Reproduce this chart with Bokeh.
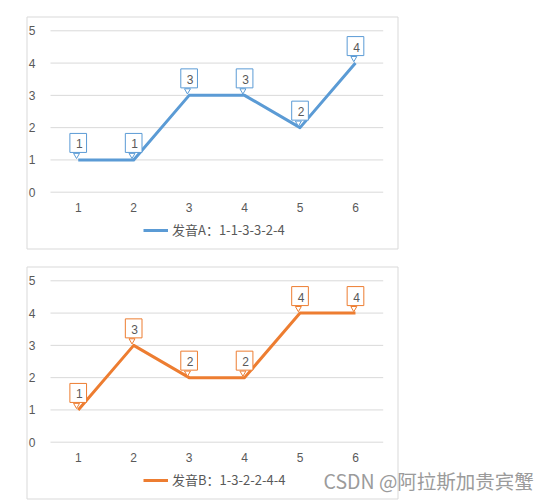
from bokeh.plotting import figure
from bokeh.models import (Range1d, FixedTicker, Legend, LegendItem, BoxAnnotation,
                          Label, ColumnDataSource)
from bokeh.layouts import column
from bokeh.embed import file_html
from bokeh.resources import INLINE
from bokeh.core.properties import value
from bokeh.transform import dodge

# ---- data ----
positions = [1, 2, 3, 4, 5, 6]
y_ticks = [0, 1, 2, 3, 4, 5]
series_a = [1, 1, 3, 3, 2, 4]
series_b = [1, 3, 2, 2, 4, 4]
name_a = "发音A：1-1-3-3-2-4"
name_b = "发音B：1-3-2-2-4-4"
color_a = "#5B9BD5"
color_b = "#ED7D31"
watermark = "CSDN @阿拉斯加贵宾蟹"

TEXT = "#595959"
GRID = "#d9d9d9"
W, H = 550, 250


def make_chart(values, name, color):
    src = ColumnDataSource(dict(x=positions, y=values, label=[str(v) for v in values]))
    p = figure(width=W, height=H, min_border=0,
               x_range=Range1d(-0.4017, 9.517), y_range=Range1d(-1.806, 5.9387),
               output_backend="svg", toolbar_location=None,
               outline_line_color=None, background_fill_color="white",
               border_fill_color="white")
    p.xgrid.visible = False
    p.ygrid.visible = False
    p.xaxis.ticker = FixedTicker(ticks=positions)
    p.yaxis.ticker = FixedTicker(ticks=y_ticks)
    p.xaxis.fixed_location = 0
    p.yaxis.fixed_location = positions[0] - 0.5
    for ax in (p.xaxis[0], p.yaxis[0]):
        ax.axis_line_color = None
        ax.major_tick_line_color = None
        ax.minor_tick_line_color = None
        ax.major_label_text_color = TEXT
        ax.major_label_text_font = "Liberation Sans"
        ax.major_label_text_font_size = "12px"
    p.xaxis.major_label_standoff = 5
    p.yaxis.major_label_standoff = 9

    # horizontal gridlines over the category span
    p.segment(x0=[positions[0] - 0.5] * len(y_ticks), x1=[positions[-1] + 0.5] * len(y_ticks),
              y0=y_ticks, y1=y_ticks, line_color=GRID, line_width=1)

    line_r = p.line(x="x", y="y", source=src, line_color=color, line_width=3,
                    line_join="round")
    # callout tails
    p.scatter(x=dodge("x", -0.03), y=dodge("y", 0.15), source=src,
              marker="inverted_triangle", size=6, fill_color="white",
              line_color=color, line_width=1)
    # callout boxes with labels
    p.text(x="x", y="y", text="label", source=src, y_offset=-17,
           text_align="center", text_baseline="middle",
           text_font=value("Liberation Sans"), text_font_size="12px",
           text_color=TEXT, background_fill_color="white",
           border_line_color=color, border_line_width=1, padding=(6, 4, 6, 4))

    legend = Legend(items=[LegendItem(label=name, renderers=[line_r])],
                    location=(143, 11), orientation="horizontal",
                    border_line_color=None, background_fill_alpha=0,
                    padding=0, margin=0, glyph_width=25, glyph_height=14,
                    label_standoff=4, label_text_font="Noto Sans CJK SC",
                    label_text_font_size="13px", label_text_color=TEXT)
    p.add_layout(legend)

    box = BoxAnnotation(left=26.5, right=397.5, top=233.5, bottom=1.5,
                        left_units="screen", right_units="screen",
                        top_units="screen", bottom_units="screen",
                        fill_alpha=0, line_color=GRID, line_alpha=1, line_width=1)
    p.add_layout(box)
    return p


p1 = make_chart(series_a, name_a, color_a)
p2 = make_chart(series_b, name_b, color_b)

wm = Label(x=323, y=20, x_units="screen", y_units="screen", text=watermark,
           text_font="Noto Sans CJK SC", text_font_size="19.5px",
           text_color="#9b9b9b", text_baseline="middle")
p2.add_layout(wm)

layout = column(p1, p2, spacing=0)
open("out.html", "w").write(file_html(layout, INLINE))
